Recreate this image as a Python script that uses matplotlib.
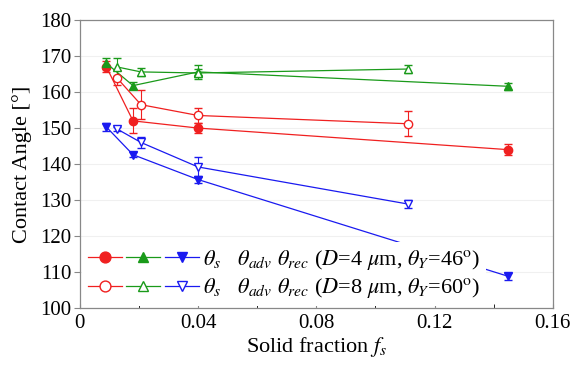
import numpy as np
import matplotlib.pyplot as plt
from matplotlib.legend_handler import HandlerTuple

plt.rcParams['font.family'] = ['Liberation Serif', 'DejaVu Serif']
plt.rcParams['mathtext.fontset'] = 'stix'

# D=4 um (filled markers)
fs_4 = [0.009, 0.018, 0.040, 0.145]
s_4 = [167.0, 152.0, 150.0, 144.0]
s_4_err = [1.5, 3.5, 1.5, 1.5]
adv_4 = [168.0, 161.8, 165.6, 161.6]
adv_4_err = [1.5, 1.0, 2.0, 1.0]
rec_4 = [150.3, 142.6, 135.7, 108.8]
rec_4_err = [1.0, 0.7, 1.0, 1.0]

# D=8 um (open markers)
fs_8 = [0.0125, 0.0207, 0.040, 0.111]
s_8 = [164.0, 156.5, 153.5, 151.2]
s_8_err = [2.0, 4.0, 2.0, 3.5]
adv_8 = [167.0, 165.6, 165.3, 166.4]
adv_8_err = [2.5, 1.0, 1.0, 1.2]
rec_8 = [149.8, 146.0, 139.2, 128.9]
rec_8_err = [0.6, 1.5, 2.8, 1.0]

red = '#f02020'
green = '#1a9a1a'
blue = '#1a1af0'

fig, ax = plt.subplots(figsize=(5.74, 3.65), dpi=100)
fig.subplots_adjust(left=0.139, right=0.963, bottom=0.156, top=0.945)

def series(x, y, err, color, marker, filled):
    fc = color if filled else 'white'
    h = ax.errorbar(x, y, yerr=err, color=color, lw=0.9, marker=marker, ms=6,
                    mfc=fc, mec=color, mew=1.0, capsize=3, elinewidth=0.8,
                    capthick=0.8)
    return h[0]

h_s4 = series(fs_4, s_4, s_4_err, red, 'o', True)
h_a4 = series(fs_4, adv_4, adv_4_err, green, '^', True)
h_r4 = series(fs_4, rec_4, rec_4_err, blue, 'v', True)
h_s8 = series(fs_8, s_8, s_8_err, red, 'o', False)
h_a8 = series(fs_8, adv_8, adv_8_err, green, '^', False)
h_r8 = series(fs_8, rec_8, rec_8_err, blue, 'v', False)

ax.set_xlim(0, 0.16)
ax.set_ylim(100, 180)
ax.set_xticks([0, 0.04, 0.08, 0.12, 0.16])
ax.set_xticklabels(['0', '0.04', '0.08', '0.12', '0.16'])
ax.set_xticks(np.arange(0.02, 0.16, 0.04), minor=True)
ax.set_yticks(np.arange(100, 181, 10))
ax.yaxis.grid(True, color='#f0f0f0', lw=0.8)
ax.set_axisbelow(True)
ax.tick_params(labelsize=15, color='#888888', length=4, width=0.8, pad=2)
ax.tick_params(axis='x', which='both', direction='in', length=3, pad=4)
for sp in ax.spines.values():
    sp.set_color('#888888')
    sp.set_linewidth(0.9)

ax.set_xlabel('Solid fraction $f_s$', fontsize=16, labelpad=2)
ax.set_ylabel('Contact Angle [°]', fontsize=16, labelpad=6)

labels = [r'$\theta_s$   $\theta_{adv}$ $\theta_{rec}$ ($D$=4 $\mu$m, $\theta_Y$=46$^{\rm o}$)',
          r'$\theta_s$   $\theta_{adv}$ $\theta_{rec}$ ($D$=8 $\mu$m, $\theta_Y$=60$^{\rm o}$)']
leg = ax.legend([(h_s4, h_a4, h_r4), (h_s8, h_a8, h_r8)], labels,
                handler_map={tuple: HandlerTuple(ndivide=None, pad=0.2)},
                loc='lower left', bbox_to_anchor=(0.0, 0.0), fontsize=16,
                markerscale=1.3, handlelength=5.0, handletextpad=0.2,
                labelspacing=0.2, frameon=True, framealpha=1, edgecolor='none',
                borderpad=0.25, borderaxespad=0.1)

fig.savefig('out.png', dpi=100)
